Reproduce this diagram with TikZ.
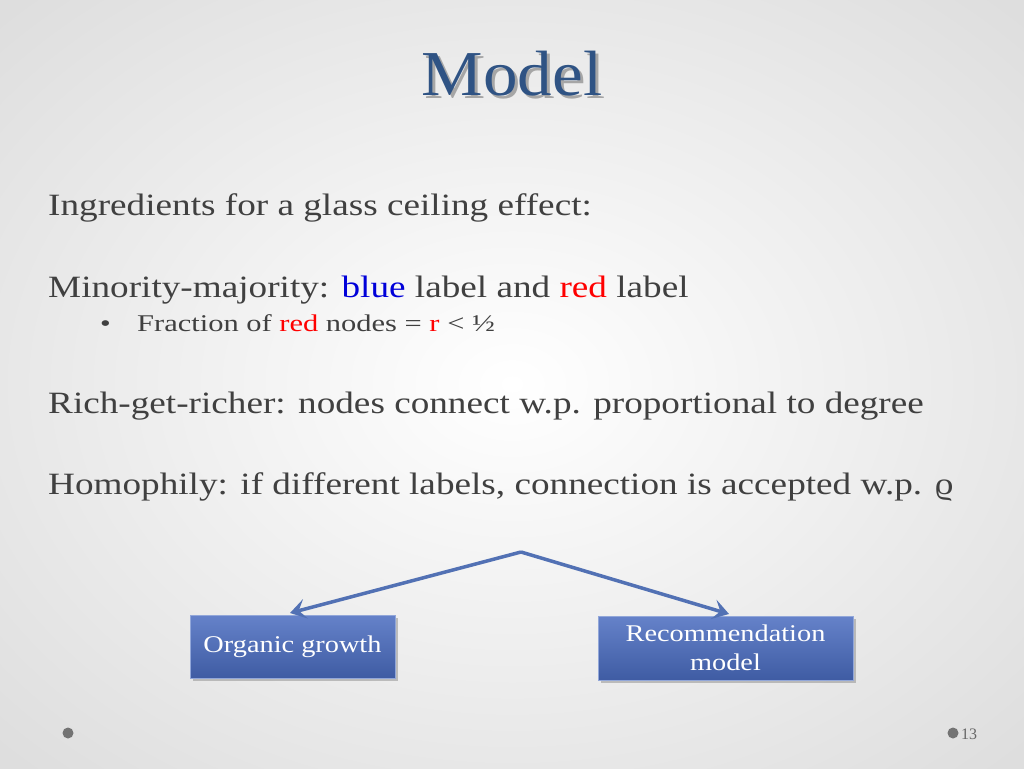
\documentclass[tikz,border=0pt]{standalone}
\usepackage{fontspec}
\setmainfont{Liberation Serif}
\newfontfamily\widefont[FakeStretch=1.2]{Liberation Serif}
\newfontfamily\subfont[FakeStretch=1.27]{Liberation Serif}
\newfontfamily\boxfont[FakeStretch=1.18]{Liberation Serif}
\newfontfamily\titlefont[FakeStretch=1.08]{Liberation Serif}
\usetikzlibrary{shadows,arrows.meta}
\definecolor{titleblue}{HTML}{2F5384}
\definecolor{arrowblue}{HTML}{5271B4}
\definecolor{boxblue}{HTML}{4A6CC0}
\tikzset{
 body/.style={anchor=base west,inner sep=0pt,font=\widefont\fontsize{31}{31}\selectfont,text=black!75},
 sub/.style={anchor=base west,inner sep=0pt,font=\subfont\fontsize{24}{24}\selectfont,text=black!75},
 bbox/.style={draw=boxblue!60!white,line width=0.8pt,top color=boxblue!85!white,bottom color=boxblue!85!black,text=white,font=\boxfont\fontsize{24}{29}\selectfont,align=center,drop shadow={shadow xshift=3pt,shadow yshift=-3pt,opacity=0.45},inner sep=0pt},
 conn/.style={draw=arrowblue,line width=3.5pt,-{Stealth[length=16pt,width=20pt,inset=7pt]}},
 dot/.style={circle,fill=black!55,inner sep=0pt,minimum size=11pt}
}
\begin{document}
\begin{tikzpicture}[x=1pt,y=-1pt]
\useasboundingbox (0,0) rectangle (1024,768);
\shade[inner color=white,outer color=black!13] (-200,-150) rectangle (1224,918);
\node[anchor=base,font=\titlefont\fontsize{64}{64}\selectfont,text=black!35] (ts) at (515,98) {Model};
\node[anchor=base,font=\titlefont\fontsize{64}{64}\selectfont,text=titleblue] (title) at (512,95) {Model};
\node[body] (l1) at (48,215) {Ingredients for a glass ceiling effect:};
\node[body] (l2) at (48,297) {Minority-majority: \textcolor{blue!85!black}{blue} label and \textcolor{red}{red} label};
\node[sub] (b) at (100,331) {•};
\node[sub] (l3) at (137,331) {Fraction of \textcolor{red}{red} nodes = \textcolor{red}{r} < ½};
\node[body] (l4) at (48,413) {Rich-get-richer: nodes connect w.p. proportional to degree};
\node[body] (l5) at (48,494) {Homophily: if different labels, connection is accepted w.p. ϱ};
\node[bbox,minimum width=205pt,minimum height=63pt] (og) at (292.5,646.5) {Organic growth};
\node[bbox,minimum width=255pt,minimum height=64pt] (rm) at (725.5,648) {Recommendation\\model};
\coordinate (apex) at (521,552);
\draw[conn] (apex) -- (290,613);
\draw[conn] (apex) -- (729,614);
\node[dot] (d1) at (68,733) {};
\node[dot] (d2) at (953,733) {};
\node[anchor=west,inner sep=0pt,font=\fontsize{16}{16}\selectfont,text=black!60] (pn) at (961,734) {13};
\end{tikzpicture}
\end{document}
